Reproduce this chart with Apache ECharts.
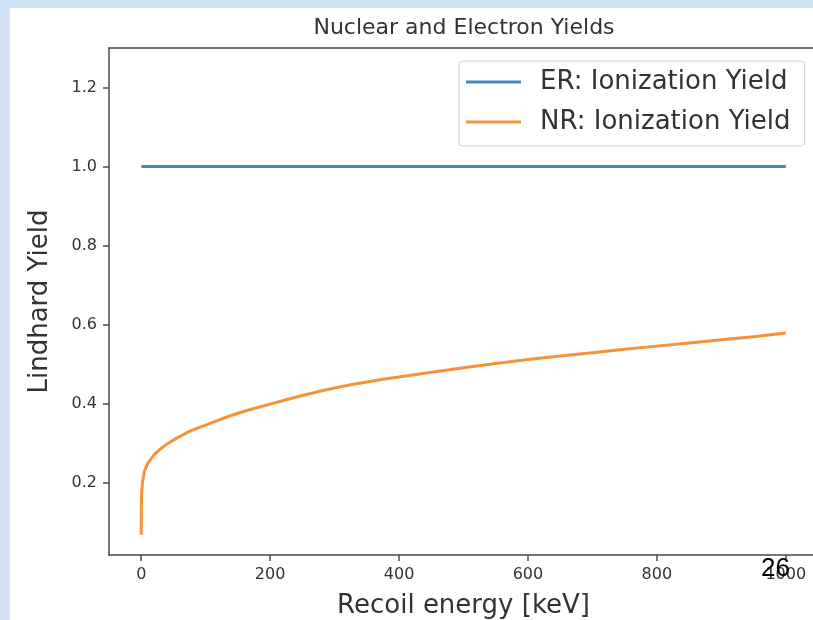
<!DOCTYPE html>
<html>
<head>
<meta charset="utf-8">
<script src="https://cdn.jsdelivr.net/npm/echarts@6/dist/echarts.min.js"></script>
<style>
  html, body { margin: 0; padding: 0; }
  body { width: 813px; height: 620px; background: #cfe1f3; position: relative; overflow: hidden; }
  #chart { position: absolute; left: 10px; top: 8px; width: 803px; height: 612px; background: #fff; }
</style>
</head>
<body>
<div id="chart"></div>
<script>
// values
const xTicks = [0, 200, 400, 600, 800, 1000];
const yTicks = [0.2, 0.4, 0.6, 0.8, 1.0, 1.2];

const erEnergy = [0, 1000];
const erYield = [1.0, 1.0];

const nrEnergy = [0, 0.2, 0.5, 1, 2, 5, 10, 20, 30, 40, 55, 70, 85, 100, 125, 150, 175, 200,
  225, 250, 275, 300, 325, 350, 375, 400, 450, 500, 550, 600, 650, 700, 750, 800, 850, 900,
  950, 1000];
const nrYield = [0.067, 0.13, 0.16, 0.18, 0.2, 0.228, 0.248, 0.27, 0.285, 0.297, 0.312, 0.325,
  0.336, 0.345, 0.361, 0.375, 0.387, 0.398, 0.409, 0.42, 0.43, 0.439, 0.447, 0.454, 0.461,
  0.467, 0.479, 0.49, 0.501, 0.511, 0.52, 0.528, 0.537, 0.545, 0.553, 0.561, 0.569, 0.578];

const font = "DejaVu Sans";
const axisColor = "#4a4a4a";
const textColor = "#333";

const chart = echarts.init(document.getElementById("chart"));
chart.setOption({
  animation: false,
  title: {
    text: "Nuclear and Electron Yields",
    left: 454,
    top: 9,
    textAlign: "center",
    padding: 0,
    textStyle: { fontFamily: font, fontSize: 22, fontWeight: "normal", color: textColor },
  },
  legend: {
    orient: "vertical",
    left: 449,
    top: 53,
    padding: [6, 14, 9, 7],
    itemGap: 10,
    itemWidth: 55,
    itemHeight: 3,
    icon: "rect",
    borderColor: "#d0d0d0",
    borderWidth: 1,
    borderRadius: 4,
    backgroundColor: "#fff",
    textStyle: { fontFamily: font, fontSize: 26, color: textColor, lineHeight: 30, padding: [0, 0, 0, 14] },
  },
  grid: {
    left: 99,
    top: 40,
    width: 709,
    height: 507,
    outerBoundsMode: "none",
    containLabel: false,
  },
  xAxis: [
    {
      type: "value",
      min: -50,
      max: 1050,
      name: "Recoil energy [keV]",
      nameLocation: "middle",
      nameGap: 38,
      nameTextStyle: { fontFamily: font, fontSize: 26, color: textColor },
      splitLine: { show: false },
      axisLine: { show: true, onZero: false, lineStyle: { color: axisColor, width: 1.5 } },
      axisTick: { show: true, length: 6, lineStyle: { color: axisColor, width: 1.5 }, customValues: xTicks },
      axisLabel: {
        margin: 12, fontFamily: font, fontSize: 16, color: textColor, customValues: xTicks,
        formatter: (v) => String(v),
      },
    },
    {
      // top spine only
      type: "value",
      position: "top",
      min: -50,
      max: 1050,
      splitLine: { show: false },
      axisLine: { show: true, onZero: false, lineStyle: { color: axisColor, width: 1.5 } },
      axisTick: { show: false },
      axisLabel: { show: false },
    },
  ],
  yAxis: {
    type: "value",
    min: 0.016,
    max: 1.3,
    name: "Lindhard Yield",
    nameLocation: "middle",
    nameGap: 56,
    nameTextStyle: { fontFamily: font, fontSize: 26, color: textColor },
    splitLine: { show: false },
    axisLine: { show: true, onZero: false, lineStyle: { color: axisColor, width: 1.5 } },
    axisTick: { show: true, length: 6, lineStyle: { color: axisColor, width: 1.5 }, customValues: yTicks },
    axisLabel: {
      margin: 12, fontFamily: font, fontSize: 16, color: textColor, customValues: yTicks,
      formatter: (v) => v.toFixed(1),
    },
  },
  series: [
    {
      name: "ER: Ionization Yield",
      type: "line",
      showSymbol: false,
      color: "#4088c3",
      lineStyle: { width: 3 },
      data: erEnergy.map((e, i) => [e, erYield[i]]),
    },
    {
      name: "NR: Ionization Yield",
      type: "line",
      showSymbol: false,
      color: "#f5933a",
      lineStyle: { width: 3, join: "round" },
      data: nrEnergy.map((e, i) => [e, nrYield[i]]),
    },
  ],
  graphic: [
    {
      type: "text",
      left: 751,
      top: 548,
      z: 100,
      style: { text: "26", fontFamily: "Liberation Sans", fontSize: 26, fill: "#000" },
    },
  ],
});
</script>
</body>
</html>
